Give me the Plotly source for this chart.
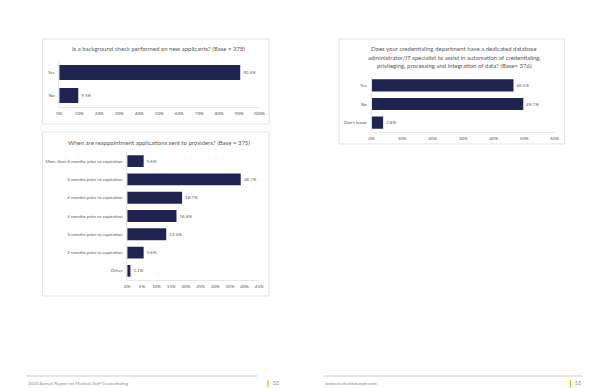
import plotly.graph_objects as go

W, H = 600, 388
NAVY = "#1f2451"
GREY = "#595959"
BORDER = "#d9d9d9"
FONT = "Lato"

# Chart 1
bg_categories = ["Yes", "No"]
bg_values = [90.5, 9.5]
bg_ticks = [0, 10, 20, 30, 40, 50, 60, 70, 80, 90, 100]

# Chart 2
db_categories = ["Yes", "No", "Don't know"]
db_values = [46.5, 49.7, 3.8]
db_ticks = [0, 10, 20, 30, 40, 50, 60]

# Chart 3
re_categories = ["More than 6 months prior to expiration", "6 months prior to expiration",
                 "4 months prior to expiration", "5 months prior to expiration",
                 "3 months prior to expiration", "2 months prior to expiration", "Other"]
re_values = [5.6, 38.7, 18.7, 16.8, 13.3, 5.6, 1.1]
re_ticks = [0, 5, 10, 15, 20, 25, 30, 35, 40, 45]


def px(x):
    return x / W


def py(y):
    return 1 - y / H


fig = go.Figure()


def add_bar(cats, vals, n):
    fig.add_trace(go.Bar(
        x=vals, y=cats, orientation="h",
        marker=dict(color=NAVY, line=dict(width=0)),
        texttemplate="%{x:.1f}%", textposition="outside",
        textfont=dict(size=4.5, color=GREY, family=FONT),
        cliponaxis=False,
        xaxis="x" if n == 1 else f"x{n}",
        yaxis="y" if n == 1 else f"y{n}",
        showlegend=False, hoverinfo="skip",
    ))


add_bar(bg_categories, bg_values, 1)
add_bar(db_categories, db_values, 2)
add_bar(re_categories, re_values, 3)


def xax(dom, ticks, anchor):
    return dict(domain=[px(dom[0]), px(dom[1])], range=[0, ticks[-1]],
                tickvals=ticks, ticktext=[f"{t}%" for t in ticks],
                tickfont=dict(size=4.5, color=GREY, family=FONT),
                showgrid=False, zeroline=False, showline=True,
                linecolor="#e6e6e6", linewidth=0.6, ticks="", anchor=anchor,
                ticklabelstandoff=2, fixedrange=True)


def yax(dom, anchor):
    return dict(domain=[py(dom[1]), py(dom[0])], autorange="reversed",
                tickfont=dict(size=4.5, color=GREY, family=FONT),
                showgrid=False, zeroline=False, showline=True,
                linecolor="#e6e6e6", linewidth=0.6, ticks="", anchor=anchor,
                ticklabelstandoff=3, fixedrange=True)


fig.update_layout(
    width=W, height=H, margin=dict(l=0, r=0, t=0, b=0),
    paper_bgcolor="white", plot_bgcolor="white",
    bargap=0.35,
    xaxis=xax([49, 252], bg_ticks, "y"),
    yaxis=yax([53, 99], "x"),
    xaxis2=xax([366, 552], db_ticks, "y2"),
    yaxis2=yax([68, 124], "x2"),
    xaxis3=xax([118, 252], re_ticks, "y3"),
    yaxis3=yax([144, 272], "x3"),
)

shapes = []
for (x0, y0, x1, y1) in [(32, 31, 262, 116), (333, 31, 562, 136), (32, 124, 262, 288)]:
    shapes.append(dict(type="rect", xref="paper", yref="paper",
                       x0=px(x0), x1=px(x1), y0=py(y1), y1=py(y0),
                       line=dict(color=BORDER, width=0.8), fillcolor="rgba(0,0,0,0)"))
# footer lines
for (x0, x1) in [(15, 250), (317, 580)]:
    shapes.append(dict(type="line", xref="paper", yref="paper",
                       x0=px(x0), x1=px(x1), y0=py(368), y1=py(368),
                       line=dict(color="#bfbfbf", width=0.8)))
# gold page markers
for xg in [261, 568]:
    shapes.append(dict(type="line", xref="paper", yref="paper",
                       x0=px(xg), x1=px(xg), y0=py(379), y1=py(372),
                       line=dict(color="#e8b800", width=1.2)))
fig.update_layout(shapes=shapes)

ann = []


def text(x, y, s, size, color=GREY, xanchor="center"):
    ann.append(dict(xref="paper", yref="paper", x=px(x), y=py(y), text=s,
                    showarrow=False, xanchor=xanchor, yanchor="middle",
                    font=dict(size=size, color=color, family=FONT)))


TC = "#595959"
text(150, 41, "Is a background check performed on new applicants? (Base = 378)", 6, TC)
text(450, 41, "Does your credentialing department have a dedicated database", 6, TC)
text(450, 49, "administrator/IT specialist to assist in automation of credentialing,", 6, TC)
text(450, 57, "privileging, processing and integration of data? (Base= 376)", 6, TC)
text(150, 134, "When are reappointment applications sent to providers? (Base = 375)", 6, TC)

text(15, 375, "2020 Annual Report on Medical Staff Credentialing", 4.5, "#8c8c8c", "left")
text(317, 375, "www.credentialsmart.com", 4.5, "#8c8c8c", "left")
text(264, 375, "52", 5, "#7f7f7f", "left")
text(571, 375, "53", 5, "#7f7f7f", "left")
fig.update_layout(annotations=ann)

fig.write_html("out.html")
